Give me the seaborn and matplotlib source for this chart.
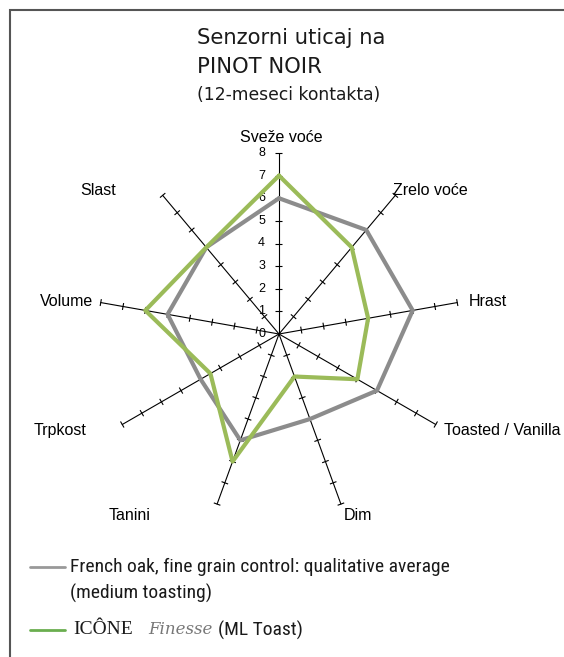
import numpy as np
import pandas as pd
import matplotlib
matplotlib.use("Agg")
import matplotlib.pyplot as plt
import seaborn as sns
from matplotlib.collections import LineCollection
from matplotlib.lines import Line2D
from matplotlib.patches import Rectangle

# data
categories = ["Sveže voće", "Zrelo voće", "Hrast", "Toasted / Vanilla", "Dim",
              "Tanini", "Trpkost", "Volume", "Slast"]
control = [6, 6, 6, 5, 4, 5, 4, 5, 5]
icone = [7, 5, 4, 4, 2, 6, 3.5, 6, 5]
scale_ticks = [0, 1, 2, 3, 4, 5, 6, 7, 8]
series_names = ["control", "icone"]

sns.set_theme(style="white")
plt.rcParams['font.family'] = ['Liberation Sans', 'DejaVu Sans']

W, H = 564, 657
fig = plt.figure(figsize=(W / 100, H / 100), dpi=100)

# radar drawn on a square cartesian axes
cx, cy, half = 279, 334, 230
px_per_unit = 181 / 8
ax = fig.add_axes([(cx - half) / W, (H - cy - half) / H, 2 * half / W, 2 * half / H])
lim = half / px_per_unit
ax.set_xlim(-lim, lim)
ax.set_ylim(-lim, lim)
ax.axis('off')

r_max = scale_ticks[-1]
angles = np.linspace(0, 2 * np.pi, len(categories), endpoint=False)
sx, sy = np.sin(angles), np.cos(angles)

# spokes + tick marks
for a, b in zip(sx, sy):
    ax.plot([0, r_max * a], [0, r_max * b], color='black', lw=0.8, zorder=1)
h = 3.5 / px_per_unit
segs = []
for a, b in zip(sx, sy):
    for t in scale_ticks[1:]:
        segs.append([(t * a - h * b, t * b + h * a), (t * a + h * b, t * b - h * a)])
ax.add_collection(LineCollection(segs, colors='black', linewidths=0.8, zorder=1))

for t in scale_ticks:
    ax.annotate(str(t), (0, t), xytext=(-10, 0), textcoords='offset points',
                ha='right', va='center', fontsize=9, color='black')

# series
rows = []
for name, vals in zip(series_names, [control, icone]):
    v = list(vals) + [vals[0]]
    a = list(sx) + [sx[0]]
    b = list(sy) + [sy[0]]
    for i in range(len(v)):
        rows.append({"series": name, "order": i, "x": v[i] * a[i], "y": v[i] * b[i]})
df = pd.DataFrame(rows)
sns.lineplot(data=df, x="x", y="y", hue="series", sort=False, estimator=None,
             palette={"control": "#8c8c8c", "icone": "#9bbb59"}, linewidth=3,
             legend=False, ax=ax, zorder=3)

# category labels: offset (px) from spoke end, alignment
label_layout = [(2, 16, 'center'), (-2, 5, 'left'), (11, 1, 'left'), (8, -6, 'left'),
                (3, -11, 'left'), (-67, -11, 'right'), (-36, -6, 'right'),
                (-8, 1, 'right'), (-47, 5, 'right')]
for name, a, b, (dx, dy, ha) in zip(categories, sx, sy, label_layout):
    ax.annotate(name, (r_max * a, r_max * b), xytext=(dx * 0.72, dy * 0.72),
                textcoords='offset points', ha=ha, va='center', fontsize=11.5,
                color='black', annotation_clip=False)

# title
title_kw = dict(family='DejaVu Sans', color='#1a1a1a', ha='left', va='center')
fig.text(197 / W, 1 - 38 / H, "Senzorni uticaj na", fontsize=15.2, **title_kw)
fig.text(197 / W, 1 - 67 / H, "PINOT NOIR", fontsize=15.2, **title_kw)
fig.text(197 / W, 1 - 95 / H, "(12-meseci kontakta)", fontsize=12.3, **title_kw)

# frame
fig.add_artist(Rectangle((10 / W, -0.1), 1.2, 1 - 10 / H + 0.1, transform=fig.transFigure,
                         fill=False, ec='#555555', lw=1.5))

# legend
fig.add_artist(Line2D([30 / W, 65 / W], [1 - 567 / H] * 2, transform=fig.transFigure,
                      color='#999999', lw=2))
fig.add_artist(Line2D([30 / W, 65 / W], [1 - 630 / H] * 2, transform=fig.transFigure,
                      color='#6aae4f', lw=2))
leg_font = ['Liberation Sans Narrow', 'Roboto Condensed', 'Roboto']
leg_kw = dict(ha='left', va='center', color='#1a1a1a')
fig.text(70 / W, 1 - 567 / H, "French oak, fine grain control: qualitative average",
         fontsize=14, family=leg_font, **leg_kw)
fig.text(70 / W, 1 - 593 / H, "(medium toasting)", fontsize=14, family=leg_font, **leg_kw)
fig.text(73 / W, 1 - 630 / H, "ICÔNE", fontsize=14, family='Liberation Serif', **leg_kw)
fig.text(148 / W, 1 - 630 / H, "Finesse", fontsize=12, family='DejaVu Serif',
         style='italic', ha='left', va='center', color='#777777')
fig.text(218 / W, 1 - 630 / H, "(ML Toast)", fontsize=14, family=leg_font, **leg_kw)

fig.savefig("out.png", dpi=100)
